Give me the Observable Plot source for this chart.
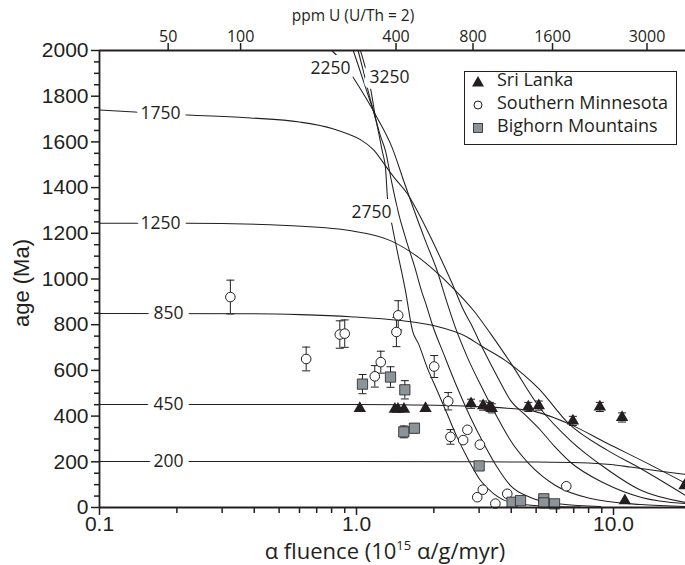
<!DOCTYPE html>
<html><head><meta charset="utf-8">
<script src="https://cdn.jsdelivr.net/npm/d3@7"></script>
<script src="https://cdn.jsdelivr.net/npm/@observablehq/plot@0.6"></script>
<style>
body{margin:0;background:#fff;}
#wrap{position:relative;width:685px;height:565px;overflow:hidden;background:#fff;color:#231f20;}
#wrap svg{position:absolute;left:0;top:0;}
.ov{position:absolute;white-space:nowrap;font-family:"Open Sans";color:#231f20;line-height:1;}
#legend{position:absolute;left:464px;top:71px;width:211px;height:72px;border:1.5px solid #231f20;background:#fff;}
#legend .row{position:absolute;left:0;height:24px;width:100%;}
#legend svg{position:absolute;left:4px;top:0;}
#legend span{position:absolute;left:32px;top:-4px;font-family:"Open Sans";font-size:18px;line-height:24px;color:#231f20;}
</style></head><body><div id="wrap"></div>
<script>
// ---- axis ticks ----
const fluenceMajor = [0.1, 1, 10];
const fluenceMajorLabels = ["0.1", "1.0", "10.0"];
const fluenceMinor = [0.2,0.3,0.4,0.5,0.6,0.7,0.8,0.9,2,3,4,5,6,7,8,9];
const ageMajor = [0,200,400,600,800,1000,1200,1400,1600,1800,2000];
const ageMinor = [50,100,150,250,300,350,450,500,550,650,700,750,850,900,950,1050,1100,1150,1250,1300,1350,1450,1500,1550,1650,1700,1750,1850,1900,1950];
const ppmLabels = ["50","100","400","800","1600","3000"];
const ppmFluence = [0.185, 0.354, 1.425, 2.84, 5.79, 13.5];

// ---- model curves (fluence, age) ----
const c200F   = [0.1, 1, 3, 5, 7.44, 9.73, 11.65, 15.24, 19.06];
const c200Age = [201, 201, 200, 199, 196, 188, 177, 159, 145];
const c450F   = [0.1, 1, 1.48, 3.04, 4.75, 6.68, 9.48, 13.56, 19.06];
const c450Age = [451, 451, 450, 441, 424, 367, 280, 193, 106];
const c850F   = [0.1, 0.387, 0.605, 0.948, 1.483, 1.993, 2.704, 3.037, 3.80, 5.107, 6.68, 9.48, 12.74, 19.06];
const c850Age = [849, 848, 844, 835, 818, 796, 745, 709, 643, 521, 368, 250, 171, 53];
const c1250F  = [0.1, 0.22, 0.533, 0.939, 1.356, 1.774, 1.999, 2.391, 2.853, 3.322, 3.974, 5.20, 6.80, 9.226, 12.85, 19.06];
const c1250Age= [1244, 1244, 1234, 1212, 1168, 1088, 1040, 957, 862, 761, 634, 432, 293, 175, 74, 22];
const c1750F  = [0.1, 0.22, 0.387, 0.600, 0.809, 0.939, 1.036, 1.168, 1.277, 1.397, 1.575, 1.747, 1.941, 2.161, 2.391, 2.608, 2.777, 3.120, 3.537, 3.974, 4.546, 5.200, 5.946, 6.80, 9.226, 12.85, 19.06];
const c1750Age= [1740, 1718, 1705, 1687, 1658, 1632, 1610, 1564, 1506, 1446, 1374, 1286, 1184, 1073, 964, 864, 807, 689, 571, 469, 404, 338, 263, 198, 106, 44, 17];
const c2250F  = [0.801, 0.8665, 0.9709, 1.084, 1.204, 1.377, 1.528, 1.671, 1.856, 2.061, 2.240, 2.428, 2.704, 3.120, 3.537, 3.974, 4.754, 5.946, 8.139, 12.74, 19.06];
const c2250Age= [2000, 1960, 1882, 1795, 1705, 1574, 1428, 1304, 1166, 1035, 904, 786, 656, 511, 393, 293, 184, 96, 39, 13, 4];
const c2750F  = [0.971, 1.036, 1.1135, 1.1855, 1.259, 1.297, 1.320, 1.377, 1.440, 1.551, 1.652, 1.747, 1.884, 2.061, 2.254, 2.465, 2.696, 3.037, 3.422, 3.974, 5.200, 7.441];
const c2750Age= [2000, 1906, 1799, 1703, 1560, 1484, 1354, 1232, 1123, 948, 773, 714, 612, 511, 409, 307, 219, 118, 60, 23, 7, 2];
const c3250F  = [1.0145, 1.065, 1.124, 1.1855, 1.240, 1.297, 1.368, 1.457, 1.565, 1.681, 1.790, 1.873, 1.970, 2.186, 2.465, 2.777, 3.129, 3.527, 3.974, 4.754, 6.22, 8.902];
const c3250Age= [2000, 1906, 1799, 1703, 1625, 1560, 1428, 1288, 1166, 1056, 948, 882, 802, 671, 525, 394, 279, 176, 96, 44, 15, 4];
const c3250bF  = [1.036, 1.074, 1.134, 1.1855];
const c3250bAge= [2000, 1939, 1834, 1703];

const curveIds = ["200","450","850","1250","1750","2250","2750","3250","3250b"];
const curveF = [c200F, c450F, c850F, c1250F, c1750F, c2250F, c2750F, c3250F, c3250bF];
const curveAge = [c200Age, c450Age, c850Age, c1250Age, c1750Age, c2250Age, c2750Age, c3250Age, c3250bAge];

// curve labels (text and anchor point on the chart)
const labelText = ["200","450","850","1250","1750","2250","2750","3250"];
const labelF    = [0.1856, 0.1856, 0.1856, 0.1727, 0.1727, 0.792, 1.144, 1.344];
const labelAge  = [201, 451, 849, 1243, 1724, 1921, 1291, 1882];

// ---- samples ----
const sriF   = [1.03, 1.41, 1.45, 1.53, 1.856, 2.79, 3.11, 3.30, 3.36, 4.66, 5.12, 6.95, 8.85, 10.8, 11.07, 18.9];
const sriAge = [434, 430, 430, 430, 434, 454, 446, 440, 434, 440, 446, 379, 440, 394, 30, 96];
const sriErr = [0, 0, 0, 0, 0, 20, 20, 20, 20, 20, 20, 20, 20, 20, 0, 0];
const minF   = [0.323, 0.637, 0.861, 0.900, 1.178, 1.243, 1.43, 1.453, 2.006, 2.274, 2.321, 2.60, 2.70, 2.95, 3.02, 3.10, 3.47, 3.86, 6.55];
const minAge = [921, 650, 757, 761, 574, 636, 768, 841, 617, 465, 309, 295, 340, 45, 275, 78, 17, 60, 93];
const minErr = [74, 52, 60, 60, 47, 48, 64, 64, 48, 38, 32, 0, 0, 0, 0, 0, 0, 0, 0];
const bigF   = [1.055, 1.356, 1.542, 1.528, 1.68, 3.0, 4.03, 4.347, 5.356, 5.356, 5.894];
const bigAge = [540, 571, 515, 331, 347, 182, 23, 30, 38, 20, 16];
const bigErr = [42, 45, 40, 26, 20, 0, 0, 0, 0, 0, 0];

// ---- build tables ----
const curveRows = curveIds.flatMap((id, k) => curveF[k].map((f, i) => ({id, f, age: curveAge[k][i]})));
const labelRows = labelText.map((t, i) => ({t, f: labelF[i], age: labelAge[i]}));
const ppmRows = ppmLabels.map((t, i) => ({t, f: ppmFluence[i]}));
const fxRows = fluenceMajorLabels.map((t, i) => ({t, f: fluenceMajor[i]}));
const mk = (F, A, E) => F.map((f, i) => ({f, age: A[i], err: E[i]}));
const sri = mk(sriF, sriAge, sriErr), minn = mk(minF, minAge, minErr), big = mk(bigF, bigAge, bigErr);
const errRows = [...sri, ...minn, ...big].filter(d => d.err > 0);
const capRows = errRows.flatMap(d => [{f: d.f, age: d.age + d.err}, {f: d.f, age: d.age - d.err}]);
const capSymbol = {draw(ctx) { ctx.moveTo(-4, 0); ctx.lineTo(4, 0); }};
const ink = "#231f20";

const chart = Plot.plot({
  width: 685, height: 565,
  marginLeft: 99, marginRight: 0, marginTop: 50, marginBottom: 58,
  style: {fontFamily: "Liberation Sans", fontSize: "21px", color: ink, background: "white"},
  x: {type: "log", domain: [0.1, 19.06]},
  y: {domain: [0, 2000]},
  marks: [
    Plot.line(curveRows, {x: "f", y: "age", z: "id", stroke: ink, strokeWidth: 1.05, curve: "monotone-x"}),
    Plot.text(labelRows, {x: "f", y: "age", text: "t", fontFamily: "Open Sans", fontSize: 17.5, fill: ink,
      stroke: "white", strokeWidth: 12, paintOrder: "stroke"}),
    Plot.ruleX(errRows, {x: "f", y1: d => d.age - d.err, y2: d => d.age + d.err, stroke: ink, strokeWidth: 1}),
    Plot.dot(capRows, {x: "f", y: "age", symbol: capSymbol, stroke: ink, strokeWidth: 1, fill: "none"}),
    Plot.dot(minn, {x: "f", y: "age", r: 4.8, fill: "white", stroke: ink, strokeWidth: 1}),
    Plot.dot(big, {x: "f", y: "age", symbol: "square", r: 5.8, fill: "#8b9499", stroke: ink, strokeWidth: 0.8}),
    Plot.dot(sri, {x: "f", y: "age", symbol: "triangle", r: 4.6, fill: ink, stroke: "none"}),
    Plot.ruleY([0], {stroke: ink, strokeWidth: 1.8}),
    Plot.ruleY([2000], {stroke: ink, strokeWidth: 1.8}),
    Plot.ruleX([0.1], {stroke: ink, strokeWidth: 1.8}),
    Plot.axisY(ageMajor, {tickSize: 8, tickPadding: 3, tickFormat: d => String(d), fontSize: 21, label: null, strokeWidth: 1.5}),
    Plot.axisY(ageMinor, {tickSize: 5, tickFormat: () => "", label: null, strokeWidth: 1.5}),
    Plot.axisX(fluenceMajor, {anchor: "bottom", tickSize: 8, tickFormat: () => "", label: null, strokeWidth: 1.5}),
    Plot.text(fxRows, {x: "f", text: "t", frameAnchor: "bottom", lineAnchor: "top", dy: 9, fontSize: 21, fill: ink}),
    Plot.axisX(fluenceMinor, {anchor: "bottom", tickSize: 6, tickFormat: () => "", label: null, strokeWidth: 1.5}),
    Plot.axisX(ppmFluence, {anchor: "top", tickSize: 8, tickFormat: () => "", label: null, strokeWidth: 1.5}),
    Plot.text(ppmRows, {x: "f", text: "t", frameAnchor: "top", lineAnchor: "bottom", dy: -9, fontSize: 16, fontFamily: "Open Sans", fill: ink})
  ]
});
const wrap = document.getElementById("wrap");
wrap.appendChild(chart);

function overlay(html, css) { const d = document.createElement("div"); d.className = "ov"; d.innerHTML = html; Object.assign(d.style, css); wrap.appendChild(d); return d; }
overlay("ppm U (U/Th = 2)", {left: "353px", top: "8px", transform: "translateX(-50%)", fontSize: "15.5px"});
overlay('α fluence (10<span style="font-size:13px;position:relative;top:-9px">15</span> α/g/myr)', {left: "385px", top: "539px", transform: "translateX(-50%)", fontSize: "22px"});
overlay("age (Ma)", {left: "22px", top: "283px", transform: "translate(-50%,-50%) rotate(-90deg)", fontSize: "22px", fontFamily: "Liberation Sans"});

// legend
const legendNames = ["Sri Lanka", "Southern Minnesota", "Bighorn Mountains"];
const legendSym = [
  '<polygon points="9,5 15,15.5 3,15.5" fill="' + ink + '"/>',
  '<circle cx="9" cy="11" r="4" fill="white" stroke="' + ink + '" stroke-width="1"/>',
  '<rect x="4.5" y="6.5" width="9" height="9" fill="#8b9499" stroke="' + ink + '" stroke-width="0.8"/>'
];
const legend = document.createElement("div"); legend.id = "legend"; wrap.appendChild(legend);
legendNames.forEach((n, i) => {
  const r = document.createElement("div"); r.className = "row"; r.style.top = (-1 + i * 23) + "px";
  r.innerHTML = '<svg width="20" height="22">' + legendSym[i] + '</svg><span>' + n + '</span>';
  legend.appendChild(r);
});
</script></body></html>
